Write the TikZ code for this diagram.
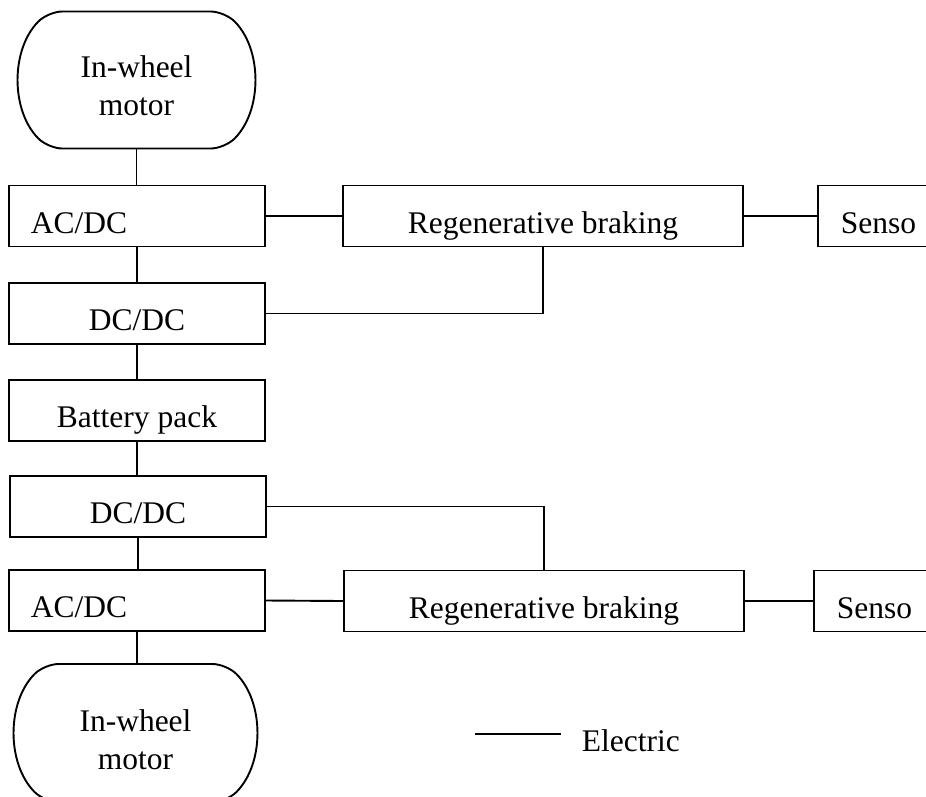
\documentclass[tikz,border=0pt]{standalone}
\usepackage{fontspec}
\setmainfont{Liberation Serif}
\usetikzlibrary{shapes.misc}

\begin{document}
\begin{tikzpicture}[x=1pt,y=-1pt,line width=1.9pt,
  every node/.style={font=\fontsize{31.5}{38}\selectfont},
  blk/.style={draw, inner sep=0pt, minimum height=61pt, text height=35pt, text depth=1pt},
  conv/.style={blk, minimum width=256pt},
  convleft/.style={blk, anchor=west, inner xsep=22pt, text width=212pt, align=left},
  regen/.style={blk, minimum width=400pt},
  sensor/.style={blk, anchor=west, inner xsep=23pt, text width=120pt, align=left},
  motor/.style={draw, rounded rectangle, rounded rectangle arc length=90, rounded corners=14pt, inner sep=0pt, minimum height=137pt}]

\useasboundingbox (0,0) rectangle (926,796);
\clip (0,0) rectangle (926,796);

% left column
\node[motor, minimum width=233pt, label={[name=motAtxt, align=center, yshift=-6pt, rounded corners=0pt]center:{In-wheel\\motor}}] (motA) at (136.5,80) {};
\node[convleft] (acA) at (8,216) {AC/DC};
\node[conv] (dcA) at (137,313.5) {DC/DC};
\node[conv] (bat) at (137,410.5) {Battery pack};
\node[conv] (dcB) at (138,506.5) {DC/DC};
\node[convleft] (acB) at (8,600.5) {AC/DC};
\node[motor, minimum width=239pt, minimum height=138pt, label={[name=motBtxt, align=center, yshift=-7pt, rounded corners=0pt]center:{In-wheel\\motor}}] (motB) at (135.5,733) {};

% braking and sensors
\node[regen] (regA) at (543,216) {Regenerative braking};
\node[sensor] (senA) at (817,216) {Senso};
\node[regen] (regB) at (544,601) {Regenerative braking};
\node[sensor] (senB) at (813,601) {Senso};

\foreach \a/\b in {motA/acA,acA/dcA,dcA/bat,bat/dcB,dcB/acB,acB/motB}{
    \draw (\a.south) -- (\a.south |- \b.north);
}

\draw (acA.east) -- (regA.west);
\draw (regA.east) -- (senA.west);
\draw (regA.south) |- (dcA.east);

\draw (dcB.east) -| (regB.north);
\draw (acB.east) -- (regB.west);
\draw (regB.east) -- (senB.west);

% legend
\coordinate (elA) at (475,734);
\coordinate (elB) at (561,734);
\draw (elA) -- (elB);
\node[anchor=base west, inner sep=0pt] (elTxt) at (581,751) {Electric};

\end{tikzpicture}
\end{document}
